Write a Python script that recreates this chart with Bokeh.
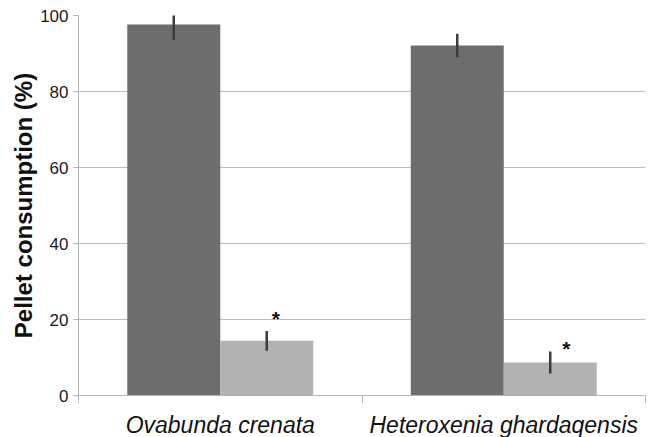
from bokeh.plotting import figure
from bokeh.models import ColumnDataSource, FixedTicker, Range1d
from bokeh.core.properties import value
from bokeh.embed import file_html
from bokeh.resources import INLINE

# ---- data ----
categories = ["Ovabunda crenata", "Heteroxenia ghardaqensis"]
control_vals = [97.6, 92.1]
control_err = [4.0, 3.1]
treat_vals = [14.4, 8.7]
treat_err = [2.6, 2.9]
sig_labels = ["*", "*"]
sig_y = [20.2, 12.4]
y_ticks = [0, 20, 40, 60, 80, 100]

FONT = "Liberation Sans"
DARK = "#6d6d6d"
LIGHT = "#b2b2b2"

centers = [i + 0.5 for i in range(len(categories))]
bw = 0.328
ctrl_x = [c - bw / 2 for c in centers]
trt_x = [c + bw / 2 for c in centers]

p = figure(frame_width=567, frame_height=380, output_backend="svg", toolbar_location=None,
           x_range=Range1d(0, len(categories)), y_range=Range1d(0, 100),
           min_border_left=78, min_border_right=4, min_border_top=15, min_border_bottom=10)
p.outline_line_color = None
p.background_fill_color = "white"

src_c = ColumnDataSource(dict(x=ctrl_x, top=control_vals,
                              lo=[v - e for v, e in zip(control_vals, control_err)],
                              hi=[v + e for v, e in zip(control_vals, control_err)]))
src_t = ColumnDataSource(dict(x=trt_x, top=treat_vals,
                              lo=[v - e for v, e in zip(treat_vals, treat_err)],
                              hi=[v + e for v, e in zip(treat_vals, treat_err)]))

p.vbar(x="x", top="top", bottom=0, width=bw, source=src_c, fill_color=DARK, line_color=None)
p.vbar(x="x", top="top", bottom=0, width=bw, source=src_t, fill_color=LIGHT, line_color=None)
p.segment(x0="x", y0="lo", x1="x", y1="hi", source=src_c, line_color="#3c3c3c", line_width=2.5)
p.segment(x0="x", y0="lo", x1="x", y1="hi", source=src_t, line_color="#3c3c3c", line_width=2.5)

star_src = ColumnDataSource(dict(x=trt_x, y=sig_y, t=sig_labels, dx=[9, 16]))
p.text(x="x", y="y", text="t", x_offset="dx", source=star_src, text_align="center",
       text_baseline="alphabetic", text_font=value(FONT), text_font_size="21px",
       text_font_style="bold", text_color="#111111")

# grid
p.xgrid.visible = False
p.ygrid.ticker = FixedTicker(ticks=y_ticks[1:])
p.ygrid.grid_line_color = "#bdbdbd"
p.ygrid.grid_line_width = 1

# y axis
ya = p.yaxis[0]
ya.ticker = FixedTicker(ticks=y_ticks)
ya.axis_line_color = "#b5b5b5"
ya.major_tick_line_color = "#b5b5b5"
ya.major_tick_out = 5
ya.major_tick_in = 0
ya.minor_tick_line_color = None
ya.major_label_text_font = FONT
ya.major_label_text_font_size = "17px"
ya.major_label_text_color = "#1a1a1a"
ya.major_label_standoff = 5
ya.axis_label = "Pellet consumption (%)"
ya.axis_label_text_font = FONT
ya.axis_label_text_font_size = "24px"
ya.axis_label_text_font_style = "bold"
ya.axis_label_text_color = "#111111"
ya.axis_label_standoff = 0

# x axis
xa = p.xaxis[0]
xa.ticker = FixedTicker(ticks=centers, minor_ticks=list(range(len(categories) + 1)))
xa.major_label_overrides = {c: name for c, name in zip(centers, categories)}
xa.axis_line_color = "#b5b5b5"
xa.major_tick_line_color = None
xa.major_tick_out = 0
xa.major_tick_in = 0
xa.minor_tick_line_color = "#b5b5b5"
xa.minor_tick_out = 7
xa.minor_tick_in = 0
xa.major_label_text_font = FONT
xa.major_label_text_font_size = "23px"
xa.major_label_text_font_style = "italic"
xa.major_label_text_color = "#111111"
xa.major_label_text_line_height = 0.75
xa.major_label_standoff = 9

open("out.html", "w").write(file_html(p, INLINE))
